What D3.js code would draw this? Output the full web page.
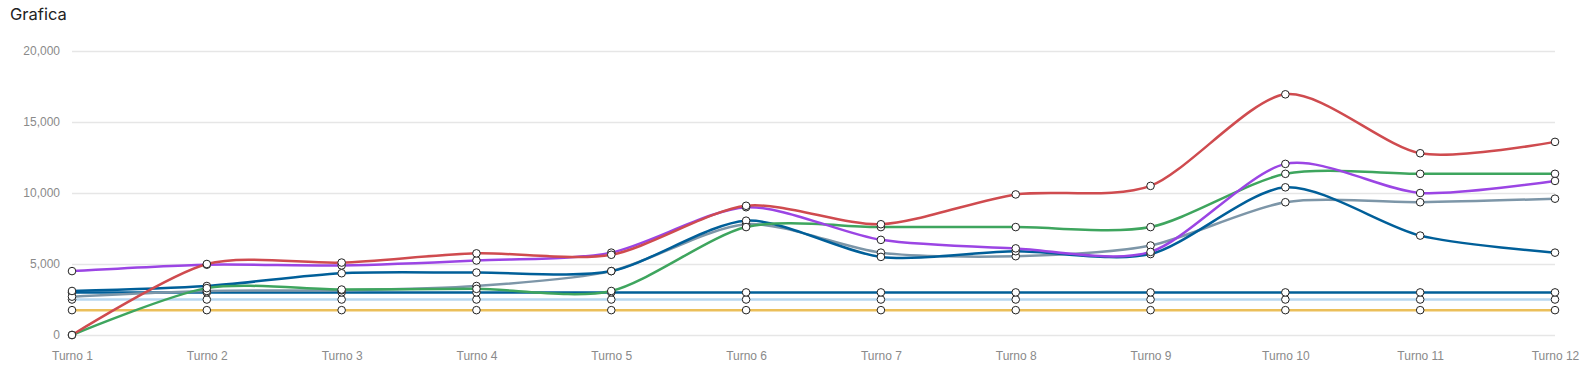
<!DOCTYPE html>
<html>
<head>
<meta charset="utf-8">
<script src="https://cdn.jsdelivr.net/npm/d3@7"></script>
<style>
  body { margin: 0; background: #fff; }
  #chart { position: relative; width: 1584px; height: 367px; }
  .title { font-family: Inter, "Noto Sans", sans-serif; font-size: 16.5px; fill: #222; }
  .tick text { font-family: "Liberation Sans", Arial, sans-serif; font-size: 12px; fill: #8a8a8a; }
</style>
</head>
<body>
<div id="chart"></div>
<script>
const turnos = ["Turno 1","Turno 2","Turno 3","Turno 4","Turno 5","Turno 6","Turno 7","Turno 8","Turno 9","Turno 10","Turno 11","Turno 12"];
const yTicks = [0, 5000, 10000, 15000, 20000];

const rojo    = [0, 5000, 5100, 5750, 5650, 9100, 7800, 9900, 10500, 16950, 12800, 13600];
const morado  = [4500, 4950, 4900, 5250, 5800, 9000, 6700, 6100, 5850, 12050, 10000, 10850];
const verde   = [0, 3300, 3200, 3250, 3100, 7600, 7600, 7600, 7600, 11350, 11350, 11350];
const azul    = [3100, 3450, 4350, 4400, 4500, 8050, 5500, 5900, 5700, 10400, 7000, 5800];
const gris    = [2700, 3100, 3150, 3450, 4500, 7800, 5800, 5550, 6300, 9350, 9350, 9600];
const azulFijo = [3000, 3000, 3000, 3000, 3000, 3000, 3000, 3000, 3000, 3000, 3000, 3000];
const celeste  = [2500, 2500, 2500, 2500, 2500, 2500, 2500, 2500, 2500, 2500, 2500, 2500];
const amarillo = [1750, 1750, 1750, 1750, 1750, 1750, 1750, 1750, 1750, 1750, 1750, 1750];

// drawn bottom first, last one ends on top
const series = [
  { values: amarillo, color: "#ebbf5a" },
  { values: celeste,  color: "#b7d7ef" },
  { values: azulFijo, color: "#005f99" },
  { values: gris,     color: "#7d96a8" },
  { values: azul,     color: "#005f99" },
  { values: verde,    color: "#3ea55e" },
  { values: morado,   color: "#9b45e4" },
  { values: rojo,     color: "#cf4b4f" }
];

const W = 1584, H = 367;
const margin = { top: 51, right: 29, bottom: 32, left: 72 };
const w = W - margin.left - margin.right;
const h = H - margin.top - margin.bottom;

const svg = d3.select("#chart").append("svg")
  .attr("width", W)
  .attr("height", H);

svg.append("text")
  .attr("class", "title")
  .attr("x", 10)
  .attr("y", 20)
  .text("Grafica");

const g = svg.append("g")
  .attr("transform", "translate(" + margin.left + "," + margin.top + ")");

const x = d3.scalePoint().domain(turnos).range([0, w]);
const y = d3.scaleLinear().domain([0, 20000]).range([h, 0]);

const yAxis = g.append("g")
  .call(d3.axisLeft(y).tickValues(yTicks).tickFormat(d3.format(",")).tickSize(-w).tickPadding(12));
yAxis.select(".domain").remove();
yAxis.selectAll(".tick line").attr("stroke", "#e6e6e6").attr("stroke-width", 1.5);

const xAxis = g.append("g")
  .attr("transform", "translate(0," + h + ")")
  .call(d3.axisBottom(x).tickSize(0).tickPadding(16));
xAxis.select(".domain").remove();

const line = d3.line()
  .x((d, i) => x(turnos[i]))
  .y(d => y(d))
  .curve(d3.curveCardinal.tension(0.2));

series.forEach(s => {
  g.append("path")
    .datum(s.values)
    .attr("fill", "none")
    .attr("stroke", s.color)
    .attr("stroke-width", 2.5)
    .attr("d", line);
});

series.forEach(s => {
  g.selectAll(null)
    .data(s.values)
    .enter()
    .append("circle")
    .attr("cx", (d, i) => x(turnos[i]))
    .attr("cy", d => y(d))
    .attr("r", 3.8)
    .attr("fill", "#fff")
    .attr("stroke", "#222")
    .attr("stroke-width", 1);
});
</script>
</body>
</html>
